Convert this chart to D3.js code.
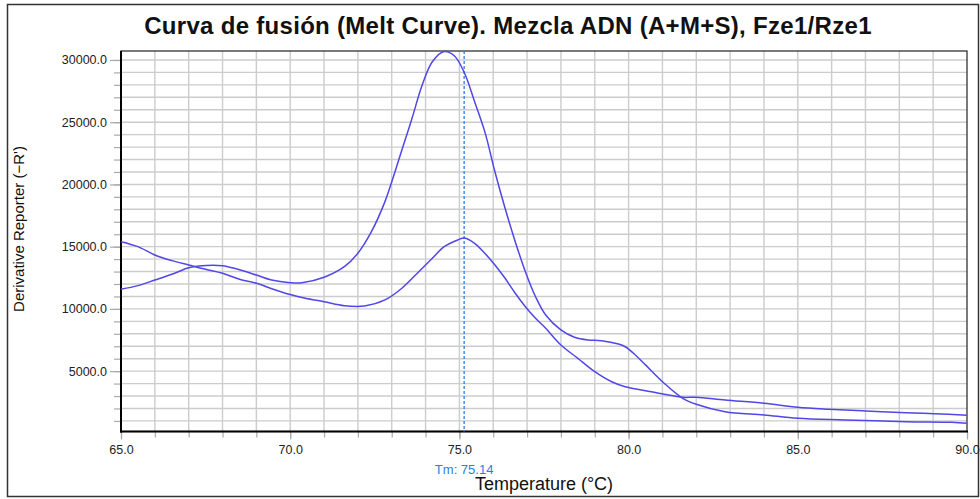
<!DOCTYPE html>
<html>
<head>
<meta charset="utf-8">
<script src="https://cdn.jsdelivr.net/npm/d3@7"></script>
<style>
  body { margin: 0; background: #fff; }
  svg { display: block; font-family: "Liberation Sans", Arial, sans-serif; }
</style>
</head>
<body>
<svg class="chart"></svg>
<script>
// Chart values
const titleText = "Curva de fusión (Melt Curve). Mezcla ADN (A+M+S), Fze1/Rze1";
const xLabel = "Temperature (°C)";
const yLabel = "Derivative Reporter (−R')";
const tm = 75.14;

const xTicks = [65, 70, 75, 80, 85, 90];
const yTicks = [5000, 10000, 15000, 20000, 25000, 30000];

// curve with the big peak
const tempsA = [65.0, 65.5, 66.0, 66.5, 67.0, 67.3, 68.0, 68.45, 69.0, 69.45, 70.0, 70.35, 71.0, 71.6, 72.0, 72.4, 72.8, 73.05, 73.3, 73.6, 73.9, 74.2, 74.55, 74.85, 75.15, 75.45, 75.75, 76.05, 76.35, 76.65, 76.95, 77.25, 77.55, 78.0, 78.4, 78.8, 79.2, 79.7, 79.9, 80.2, 80.5, 81.05, 81.6, 82.0, 82.85, 84.0, 85.0, 86.4, 88.2, 89.55, 90.0];
const valuesA = [11580, 11870, 12320, 12780, 13310, 13450, 13470, 13180, 12720, 12320, 12110, 12100, 12540, 13390, 14470, 16200, 18620, 20620, 22770, 25310, 27990, 29860, 30680, 30340, 28950, 26650, 24240, 21020, 18080, 15400, 12990, 10980, 9510, 8310, 7720, 7500, 7450, 7180, 6960, 6300, 5500, 4030, 2820, 2340, 1740, 1480, 1210, 1080, 940, 890, 810];

// curve with the small peak
const tempsB = [65.0, 65.5, 66.0, 66.5, 67.0, 67.5, 68.0, 68.5, 69.0, 69.5, 70.0, 70.45, 71.0, 71.6, 72.2, 72.8, 73.3, 73.8, 74.2, 74.55, 74.95, 75.15, 75.45, 75.75, 76.05, 76.35, 76.65, 76.95, 77.25, 77.55, 78.0, 78.5, 79.0, 79.5, 79.9, 80.5, 81.05, 81.6, 82.0, 82.85, 84.0, 85.0, 85.9, 87.0, 88.2, 89.05, 90.0];
const valuesB = [15400, 15000, 14330, 13880, 13530, 13180, 12860, 12380, 12060, 11580, 11150, 10850, 10580, 10260, 10240, 10720, 11660, 12990, 14070, 15000, 15540, 15700, 15270, 14470, 13530, 12460, 11260, 10180, 9250, 8440, 7100, 6030, 4960, 4150, 3750, 3430, 3140, 2900, 2900, 2680, 2420, 2100, 1940, 1800, 1660, 1580, 1450];

const width = 980, height = 499;
const margin = { top: 51, right: 13, bottom: 67.5, left: 121 };
const curveColor = "#5047e6";
const tmColor = "#2a7de8";

const svg = d3.select(".chart").attr("width", width).attr("height", height);

// outer frame
svg.append("rect")
    .attr("x", 7.5).attr("y", 4.5)
    .attr("width", 971).attr("height", 492)
    .attr("fill", "#fff").attr("stroke", "#333").attr("stroke-width", 1.5);

const x = d3.scaleLinear().domain([65, 90]).range([margin.left, width - margin.right]);
const y = d3.scaleLinear().domain([150, 30720]).range([height - margin.bottom, margin.top]);

// grid, every 1 degree and every 1000
const xGrid = d3.range(66, 90, 1);
const yGrid = d3.range(1000, 30001, 1000);

const grid = svg.append("g");
grid.selectAll("line.vx").data(xGrid).enter().append("line")
    .attr("x1", d => x(d)).attr("x2", d => x(d))
    .attr("y1", y.range()[1]).attr("y2", y.range()[0])
    .attr("stroke", "#cccccc").attr("stroke-width", 1.4);
grid.selectAll("line.hy").data(yGrid).enter().append("line")
    .attr("x1", x.range()[0]).attr("x2", x.range()[1])
    .attr("y1", d => y(d)).attr("y2", d => y(d))
    .attr("stroke", "#cccccc").attr("stroke-width", 1.4);

// axes: minor ticks without labels, then major with labels
const xAxisMinor = d3.axisBottom(x).tickValues(d3.range(65, 91, 1)).tickSize(6).tickFormat("");
const xAxis = d3.axisBottom(x).tickValues(xTicks).tickSize(8).tickPadding(6).tickFormat(d3.format(".1f"));
const yAxisMinor = d3.axisLeft(y).tickValues(yGrid).tickSize(7).tickFormat("");
const yAxis = d3.axisLeft(y).tickValues(yTicks).tickSize(11).tickPadding(3).tickFormat(d3.format(".1f"));

function styleAxis(g) {
    g.select(".domain").remove();
    g.selectAll(".tick line").attr("stroke", "#aaa").attr("stroke-width", 1.2);
    g.selectAll(".tick text").attr("fill", "#222").style("font-size", "12.5px");
}

svg.append("g").attr("transform", `translate(0,${y.range()[0]})`).call(xAxisMinor).call(styleAxis);
svg.append("g").attr("transform", `translate(0,${y.range()[0]})`).call(xAxis).call(styleAxis);
svg.append("g").attr("transform", `translate(${x.range()[0]},0)`).call(yAxisMinor).call(styleAxis);
svg.append("g").attr("transform", `translate(${x.range()[0]},0)`).call(yAxis).call(styleAxis);

// plot frame
svg.append("rect")
    .attr("x", x.range()[0]).attr("y", y.range()[1])
    .attr("width", x.range()[1] - x.range()[0])
    .attr("height", y.range()[0] - y.range()[1])
    .attr("fill", "none").attr("stroke", "#222").attr("stroke-width", 1.2);
svg.append("line")
    .attr("x1", x.range()[0]).attr("x2", x.range()[0])
    .attr("y1", y.range()[1]).attr("y2", y.range()[0] + 1)
    .attr("stroke", "#000").attr("stroke-width", 2);
svg.append("line")
    .attr("x1", x.range()[0] - 1).attr("x2", x.range()[1] + 1)
    .attr("y1", y.range()[0]).attr("y2", y.range()[0])
    .attr("stroke", "#000").attr("stroke-width", 2);

// Tm marker
svg.append("line")
    .attr("x1", x(tm)).attr("x2", x(tm))
    .attr("y1", y.range()[1]).attr("y2", y.range()[0])
    .attr("stroke", tmColor).attr("stroke-width", 1.3)
    .attr("stroke-dasharray", "3,2");
svg.append("text")
    .attr("x", x(tm)).attr("y", 474)
    .attr("text-anchor", "middle")
    .attr("fill", tmColor).style("font-size", "13px")
    .text("Tm: " + tm.toFixed(2));

// curves
const line = d3.line()
    .x(d => x(d[0])).y(d => y(d[1]))
    .curve(d3.curveCatmullRom.alpha(0.5));

const series = [d3.zip(tempsA, valuesA), d3.zip(tempsB, valuesB)];
svg.selectAll("path.curve")
    .data(series)
    .enter()
    .append("path")
    .attr("class", "curve")
    .attr("d", line)
    .attr("fill", "none")
    .attr("stroke", curveColor)
    .attr("stroke-width", 1.5);

// titles
svg.append("text")
    .attr("x", 508).attr("y", 34)
    .attr("text-anchor", "middle")
    .attr("fill", "#111").style("font-size", "24px").style("font-weight", "bold")
    .style("letter-spacing", "0.3px")
    .text(titleText);

svg.append("text")
    .attr("x", (x.range()[0] + x.range()[1]) / 2).attr("y", 490)
    .attr("text-anchor", "middle")
    .attr("fill", "#111").style("font-size", "18px")
    .text(xLabel);

svg.append("text")
    .attr("transform", "translate(24,229) rotate(-90)")
    .attr("text-anchor", "middle")
    .attr("fill", "#111").style("font-size", "15px")
    .text(yLabel);
</script>
</body>
</html>
